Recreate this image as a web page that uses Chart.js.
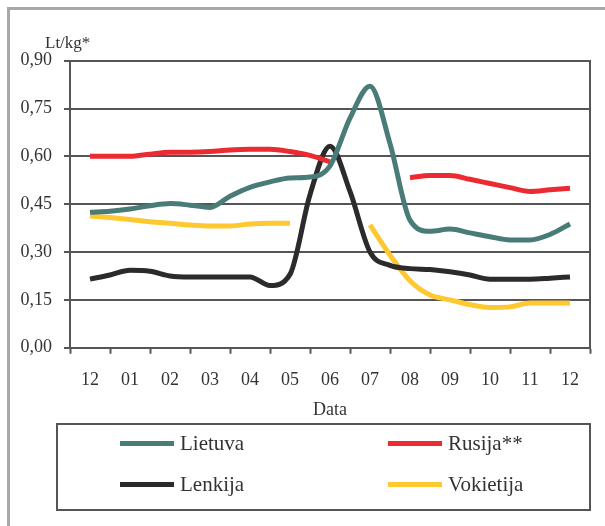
<!DOCTYPE html>
<html>
<head>
<meta charset="utf-8">
<script src="https://cdn.jsdelivr.net/npm/chart.js@4.4.0/dist/chart.umd.min.js"></script>
<style>
  html, body { margin: 0; padding: 0; background: #fff; }
  body { width: 605px; height: 526px; position: relative; overflow: hidden; }
  #frame { position: absolute; left: 7px; top: 7px; width: 598px; height: 519px;
           border-top: 3px solid #a8a8a8; border-left: 3px solid #a8a8a8; box-sizing: border-box; }
  #c { position: absolute; left: 0; top: 0; }
  #ytitle { position: absolute; left: 45px; top: 33px; font-family: "Liberation Serif", "Times New Roman", serif;
            font-size: 17px; line-height: 20px; color: #333; white-space: nowrap; }
  #legend { position: absolute; left: 56px; top: 423px; width: 535px; height: 88px;
            border: 2px solid #555; box-sizing: border-box; }
  .item { position: absolute; font-family: "Liberation Serif", "Times New Roman", serif;
          font-size: 21px; color: #333; line-height: 24px; white-space: nowrap; }
  .sw { position: absolute; width: 54px; height: 5px; }
</style>
</head>
<body>
<div id="frame"></div>
<canvas id="c" width="605" height="526"></canvas>
<div id="ytitle"></div>
<div id="legend"></div>
<script>
// Category (month) labels on the x axis
const monthLabels = ['12','01','02','03','04','05','06','07','08','09','10','11','12'];
// x positions of data points (in month units, 0 = first "12")
const xs = [0,0.5,1,1.5,2,2.5,3,3.5,4,4.5,5,5.5,6,6.5,7,7.5,8,8.5,9,9.5,10,10.5,11,11.5,12];
// Series values (Lt/kg)
const lietuva   = [0.425,0.428,0.435,0.445,0.452,0.447,0.44,0.475,0.503,0.52,0.532,0.535,0.57,0.72,0.82,0.64,0.40,0.365,0.372,0.36,0.348,0.338,0.338,0.355,0.388];
const rusija    = [0.60,0.60,0.60,0.607,0.613,0.613,0.615,0.62,0.622,0.622,0.615,0.603,0.583,null,null,null,0.533,0.54,0.54,0.528,0.515,0.502,0.49,0.495,0.50];
const lenkija   = [0.215,0.228,0.243,0.24,0.225,0.222,0.222,0.222,0.222,0.195,0.23,0.48,0.632,0.49,0.30,0.258,0.248,0.245,0.238,0.228,0.215,0.215,0.215,0.218,0.222];
const vokietija = [0.413,0.408,0.402,0.395,0.39,0.385,0.382,0.382,0.388,0.39,0.39,null,null,null,0.385,0.29,0.21,0.165,0.15,0.135,0.126,0.128,0.14,0.14,0.14];
const seriesNames = ['Lietuva','Rusija**','Lenkija','Vokietija'];
const seriesColors = ['#4a7c77','#ec2a32','#2b2b2b','#fdc830'];
const yTitle = 'Lt/kg*';
const xTitle = 'Data';

document.getElementById('ytitle').textContent = yTitle;

const seriesData = [lietuva, rusija, lenkija, vokietija];
const toPts = arr => xs.map((x, i) => ({x: x, y: arr[i]}));
const serif = '"Liberation Serif", "Times New Roman", serif';

const datasets = seriesData.map((arr, i) => ({
  label: seriesNames[i],
  data: toPts(arr),
  xAxisID: 'xd',
  yAxisID: 'y',
  borderColor: seriesColors[i],
  backgroundColor: seriesColors[i],
  borderWidth: 5,
  pointRadius: 0,
  cubicInterpolationMode: 'monotone',
  borderJoinStyle: 'round',
  spanGaps: false,
  fill: false
}));

new Chart(document.getElementById('c'), {
  type: 'line',
  data: { datasets: datasets },
  options: {
    responsive: false,
    animation: false,
    layout: { padding: { left: 0, right: 15, top: 60.7, bottom: 98.3 } },
    plugins: {
      legend: { display: false },
      tooltip: { enabled: false },
      title: { display: false }
    },
    scales: {
      x: {
        type: 'category', labels: monthLabels, offset: true, position: 'bottom',
        grid: { display: true, drawOnChartArea: false, offset: true, tickLength: 6, tickColor: '#555', tickWidth: 2 },
        border: { display: true, color: '#555', width: 2 },
        ticks: { color: '#333', padding: 16, font: { family: serif, size: 18 }, maxRotation: 0, autoSkip: false },
        title: { display: true, text: xTitle, color: '#333', font: { family: serif, size: 18 }, padding: { top: 0, bottom: 7 } },
        afterFit: s => { s.height = 80; }
      },
      xd: {
        type: 'linear', axis: 'x', display: false, min: -0.5, max: 12.5
      },
      y: {
        type: 'linear', position: 'left', min: 0, max: 0.9,
        grid: { color: '#555', lineWidth: 2, tickLength: 6, drawTicks: true },
        border: { display: true, color: '#555', width: 2 },
        ticks: { stepSize: 0.15, color: '#333', padding: 12, font: { family: serif, size: 18 },
                 callback: v => v.toFixed(2).replace('.', ',') },
        afterFit: s => { s.width = 70; }
      },
      y2: {
        type: 'linear', position: 'right', min: 0, max: 0.9,
        grid: { drawOnChartArea: false, drawTicks: false },
        border: { display: true, color: '#555', width: 2 },
        ticks: { display: false },
        afterFit: s => { s.width = 0; }
      }
    }
  }
});

// Boxed two-column legend built from the series names/colours
const legend = document.getElementById('legend');
const pos = [[62, 18], [330, 18], [62, 59], [330, 59]]; // swatch left, row centre (inside legend box)
seriesNames.forEach((name, i) => {
  const [lx, cy] = pos[i];
  const sw = document.createElement('span');
  sw.className = 'sw';
  sw.style.left = lx + 'px';
  sw.style.top = (cy - 2.5) + 'px';
  sw.style.background = seriesColors[i];
  legend.appendChild(sw);
  const t = document.createElement('span');
  t.className = 'item';
  t.textContent = name;
  t.style.left = (lx + 60) + 'px';
  t.style.top = (cy - 12) + 'px';
  legend.appendChild(t);
});
</script>
</body>
</html>
